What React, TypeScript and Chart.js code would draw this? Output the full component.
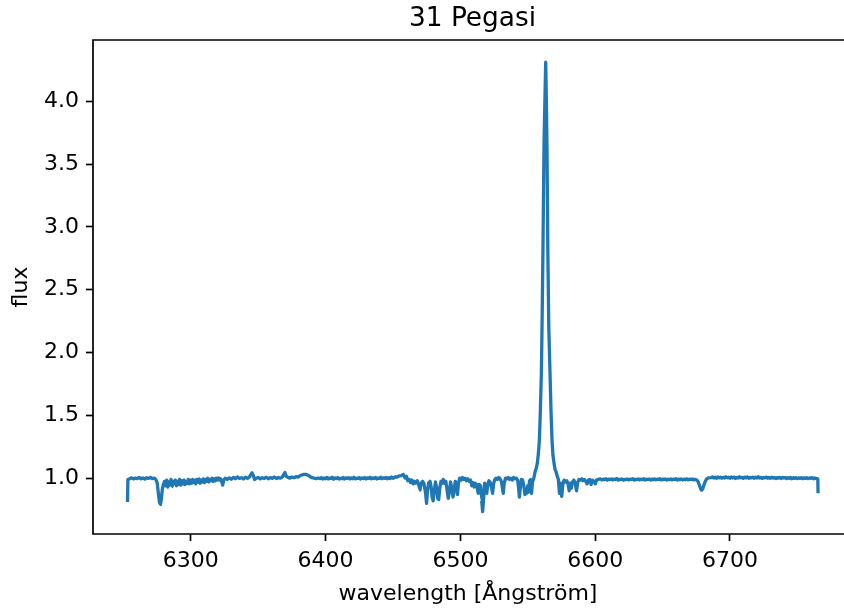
import React, { useEffect, useRef } from "react";
import { Chart, registerables } from "chart.js";

Chart.register(...registerables);

const TITLE = "31 Pegasi";
const X_LABEL = "wavelength [Ångström]";
const Y_LABEL = "flux";
const xTicks = [6300, 6400, 6500, 6600, 6700];
const yTicks = [1.0, 1.5, 2.0, 2.5, 3.0, 3.5, 4.0];
const X_MIN = 6227.4;
const X_MAX = 6783.9; // visible part of the axis
const X_AXIS_END = 6790.6; // full axis limit (right spine falls just outside the frame)
const Y_MIN = 0.556;
const Y_MAX = 4.487;

// blue edge continuum
const edgeWl = [6253.0, 6253.3, 6254.6, 6256.0, 6257.4, 6258.8, 6260.2, 6261.6, 6263.0, 6264.4, 6265.8, 6267.2, 6268.6, 6270.0, 6271.4, 6272.8, 6274.0];
const edgeFlux = [0.81, 0.99, 0.996, 1.003, 0.994, 1.001, 0.997, 1.006, 0.995, 1.002, 0.993, 1.004, 0.998, 1.007, 0.996, 1.001, 0.99];

// absorption near 6277
const dip6277Wl = [6275.0, 6275.9, 6276.7, 6277.4, 6278.1, 6278.8, 6279.6];
const dip6277Flux = [0.965, 0.88, 0.81, 0.79, 0.83, 0.91, 0.95];

// telluric band 6280-6322
const bandWl = [
  6280.5, 6281.3, 6282.1, 6282.9, 6283.7, 6284.5, 6285.3, 6286.1, 6286.9, 6287.7,
  6288.5, 6289.3, 6290.1, 6290.9, 6291.7, 6292.5, 6293.3, 6294.1, 6294.9, 6295.7,
  6296.5, 6297.3, 6298.1, 6298.9, 6299.7, 6300.5, 6301.3, 6302.1, 6302.9, 6303.7,
  6304.5, 6305.3, 6306.1, 6306.9, 6307.7, 6308.5, 6309.3, 6310.1, 6310.9, 6311.7,
  6312.5, 6313.3, 6314.1, 6314.9, 6315.7, 6316.5, 6317.3, 6318.1, 6318.9, 6319.7,
  6320.5, 6321.3, 6322.1,
];
const bandFlux = [
  0.975, 0.94, 0.985, 0.93, 0.97, 0.945, 0.99, 0.935, 0.975, 0.955,
  0.985, 0.94, 0.975, 0.95, 0.99, 0.945, 0.98, 0.955, 0.985, 0.95,
  0.975, 0.96, 0.99, 0.955, 0.985, 0.96, 0.99, 0.965, 0.985, 0.955,
  0.99, 0.97, 0.995, 0.96, 0.985, 0.97, 0.995, 0.965, 0.99, 0.975,
  1.0, 0.97, 0.99, 0.98, 1.0, 0.975, 0.995, 0.98, 1.0, 0.985,
  1.002, 0.985, 0.995,
];

const contAWl = [6322.9, 6323.6, 6324.4, 6325.5, 6327.0, 6328.5, 6330.0, 6331.5, 6333.0, 6334.5, 6336.0, 6337.5, 6339.0, 6340.5, 6342.0, 6343.5, 6344.6, 6345.5, 6346.4, 6347.3];
const contAFlux = [0.975, 0.945, 0.985, 1.0, 0.99, 1.003, 0.992, 1.006, 0.996, 1.01, 0.998, 1.004, 0.994, 1.008, 0.998, 1.01, 1.03, 1.045, 1.02, 0.99];

const contBWl = [
  6348.5, 6350.0, 6351.5, 6353.0, 6354.5, 6356.0, 6357.5, 6359.0, 6360.5, 6362.0,
  6363.5, 6365.0, 6366.5, 6368.0, 6369.0, 6369.8, 6370.7, 6372.0, 6373.5, 6375.0,
  6376.5, 6378.0, 6379.5, 6381.0, 6382.5, 6384.0, 6385.5, 6387.0, 6388.5, 6390.0,
  6391.5, 6393.0, 6394.5,
];
const contBFlux = [
  1.0, 1.006, 0.995, 1.004, 0.998, 1.008, 0.996, 1.005, 0.999, 1.01,
  0.997, 1.006, 1.0, 1.012, 1.03, 1.045, 1.015, 1.008, 1.0, 1.01,
  1.004, 1.012, 1.008, 1.02, 1.026, 1.03, 1.03, 1.024, 1.012, 1.004,
  1.0, 0.996, 1.002,
];

const contCWl = [
  6396, 6397, 6398, 6399, 6400, 6401, 6402, 6403, 6404, 6405,
  6406, 6407, 6408, 6409, 6410, 6411, 6412, 6413, 6414, 6415,
  6416, 6417, 6418, 6419, 6420, 6421, 6422, 6423, 6424, 6425,
  6426, 6427, 6428, 6429, 6430, 6431, 6432, 6433, 6434, 6435,
  6436, 6437, 6438, 6439, 6440, 6441, 6442, 6443, 6444, 6445,
  6446, 6447, 6448, 6449, 6450, 6451, 6452, 6453, 6454,
];
const contCFlux = [
  0.997, 1.004, 0.993, 1.002, 0.996, 1.006, 0.994, 1.001, 0.998, 1.007,
  0.992, 1.003, 0.997, 1.005, 0.994, 1.0, 0.996, 1.006, 0.993, 1.002,
  0.999, 1.005, 0.994, 1.003, 0.996, 1.007, 0.995, 1.001, 0.998, 1.006,
  0.993, 1.002, 0.997, 1.005, 0.994, 1.003, 0.999, 1.007, 0.995, 1.002,
  0.997, 1.006, 0.994, 1.001, 0.998, 1.008, 0.996, 1.003, 0.999, 1.006,
  0.995, 1.004, 0.998, 1.009, 1.0, 1.006, 1.012, 1.008, 1.016,
];

const blendAWl = [
  6456.0, 6457.6, 6459.0, 6460.0, 6461.0, 6462.0, 6463.0, 6464.0, 6465.0, 6466.0,
  6467.0, 6468.0, 6469.0, 6470.0, 6471.0, 6472.0, 6473.0, 6474.2, 6474.9, 6475.6,
  6476.5, 6477.5, 6478.3, 6479.0, 6479.8, 6480.6, 6481.5, 6482.5, 6483.2, 6483.9,
  6484.7, 6485.6, 6486.5, 6487.3, 6488.2, 6489.2, 6490.2, 6491.0, 6491.8, 6492.7,
  6493.6, 6494.5, 6495.3, 6496.2, 6497.0, 6497.8, 6498.6, 6499.5, 6500.5, 6501.5,
  6502.5, 6503.5, 6504.5, 6505.5, 6506.5, 6507.5, 6508.5, 6509.3, 6510.2,
];
const blendAFlux = [
  1.02, 1.03, 1.0, 1.015, 0.98, 0.99, 0.965, 0.985, 0.955, 0.975,
  0.96, 0.98, 0.95, 0.905, 0.965, 0.975, 0.955, 0.88, 0.8, 0.9,
  0.965, 0.975, 0.93, 0.85, 0.82, 0.9, 0.97, 0.92, 0.84, 0.83,
  0.92, 0.975, 0.96, 0.99, 0.96, 0.975, 0.9, 0.84, 0.89, 0.97,
  0.92, 0.85, 0.9, 0.975, 0.95, 0.87, 0.96, 1.0, 0.985, 1.005,
  0.99, 1.0, 0.98, 0.995, 0.975, 0.985, 0.94, 0.965, 0.93,
];

const blendBWl = [
  6511.0, 6512.0, 6513.2, 6514.0, 6515.0, 6515.8, 6516.5, 6517.2, 6518.0, 6519.0,
  6519.6, 6520.3, 6521.2, 6522.0, 6523.0, 6523.9, 6524.7, 6525.6, 6526.5, 6527.5,
  6528.5, 6529.5, 6530.5, 6531.2, 6531.8, 6532.5, 6533.5, 6534.5, 6535.5, 6536.5,
  6537.5, 6538.5, 6539.5, 6540.5, 6541.5, 6542.5, 6543.2, 6543.8, 6544.5, 6545.3,
  6546.2, 6547.2, 6547.9, 6548.6, 6549.2, 6550.0, 6550.6, 6551.3, 6552.1, 6552.8,
  6553.5, 6554.5,
];
const blendBFlux = [
  0.96, 0.95, 0.88, 0.95, 0.94, 0.82, 0.735, 0.83, 0.96, 0.93,
  0.88, 0.95, 0.98, 0.97, 0.93, 0.88, 0.96, 0.99, 1.0, 0.99,
  1.005, 0.995, 0.97, 0.92, 0.88, 0.96, 1.0, 0.995, 1.005, 0.99,
  1.0, 0.985, 1.005, 0.995, 1.0, 0.985, 0.92, 0.85, 0.93, 0.99,
  0.985, 0.93, 0.87, 0.9, 0.88, 0.94, 0.89, 0.98, 0.99, 0.88,
  0.97, 1.0,
];

// H-alpha emission
const halphaWl = [
  6555.4, 6556.3, 6557.1, 6557.9, 6558.6, 6559.3, 6560.1, 6560.6, 6561.1, 6561.6,
  6562.1, 6562.7, 6563.3, 6563.8, 6564.3, 6564.9, 6565.6, 6566.5, 6567.2, 6568.0,
  6568.7, 6569.5, 6570.2, 6571.0, 6571.8, 6572.7,
];
const halphaFlux = [
  1.05, 1.08, 1.12, 1.2, 1.3, 1.52, 1.84, 2.22, 2.65, 3.17,
  3.69, 4.0, 4.31, 4.0, 3.6, 2.8, 2.2, 1.84, 1.55, 1.3,
  1.18, 1.12, 1.07, 1.05, 1.02, 0.99,
];

const redBlendWl = [
  6573.5, 6574.3, 6575.2, 6576.0, 6577.0, 6578.0, 6579.0, 6580.0, 6580.7, 6581.4,
  6582.3, 6583.2, 6584.2, 6585.2, 6586.2, 6587.0, 6588.0, 6589.0, 6590.0, 6591.0,
  6592.0, 6593.0, 6594.0, 6595.0, 6596.0, 6597.0, 6598.0, 6599.0, 6600.2, 6601.0,
  6602.0,
];
const redBlendFlux = [
  0.88, 0.96, 0.855, 0.95, 0.985, 0.97, 0.98, 0.95, 0.9, 0.96,
  0.92, 0.97, 0.985, 0.96, 0.9, 0.965, 0.99, 0.985, 0.995, 0.98,
  0.99, 0.975, 0.955, 0.985, 0.99, 0.95, 0.985, 0.975, 0.955, 0.985,
  0.99,
];

const contDWl = [
  6604, 6605, 6606, 6607, 6608, 6609, 6610, 6611, 6612, 6613,
  6614, 6615, 6616, 6617, 6618, 6619, 6620, 6621, 6622, 6623,
  6624, 6625, 6626, 6627, 6628, 6629, 6630, 6631, 6632, 6633,
  6634, 6635, 6636, 6637, 6638, 6639, 6640, 6641, 6642, 6643,
  6644, 6645, 6646, 6647, 6648, 6649, 6650, 6651, 6652, 6653,
  6654, 6655, 6656, 6657, 6658, 6659, 6660, 6661, 6662, 6663,
  6664, 6665, 6666, 6667, 6668, 6669, 6670, 6671, 6672, 6673,
  6674,
];
const contDFlux = [
  0.994, 0.986, 0.993, 0.988, 0.996, 0.985, 0.992, 0.989, 0.995, 0.986,
  0.993, 0.99, 0.997, 0.985, 0.992, 0.988, 0.995, 0.984, 0.991, 0.989,
  0.994, 0.986, 0.993, 0.99, 0.996, 0.985, 0.992, 0.988, 0.995, 0.987,
  0.993, 0.989, 0.996, 0.986, 0.992, 0.99, 0.994, 0.985, 0.993, 0.988,
  0.995, 0.987, 0.992, 0.99, 0.996, 0.986, 0.993, 0.989, 0.994, 0.985,
  0.992, 0.988, 0.995, 0.987, 0.993, 0.99, 0.996, 0.986, 0.992, 0.989,
  0.994, 0.986, 0.993, 0.988, 0.995, 0.987, 0.992, 0.99, 0.994, 0.987,
  0.991,
];

// He I 6678
const heWl = [6675.5, 6676.5, 6677.5, 6678.3, 6679.0, 6679.8, 6680.7, 6681.7, 6682.8, 6684.0];
const heFlux = [0.985, 0.97, 0.94, 0.915, 0.905, 0.915, 0.945, 0.975, 0.995, 1.003];

const contEWl = [
  6686, 6687, 6688, 6689, 6690, 6691, 6692, 6693, 6694, 6695,
  6696, 6697, 6698, 6699, 6700, 6701, 6702, 6703, 6704, 6705,
  6706, 6707, 6708, 6709, 6710, 6711, 6712, 6713, 6714, 6715,
  6716, 6717, 6718, 6719, 6720, 6721, 6722, 6723, 6724, 6725,
  6726, 6727, 6728, 6729, 6730, 6731, 6732, 6733, 6734, 6735,
  6736, 6737, 6738, 6739, 6740, 6741, 6742, 6743, 6744, 6745,
  6746, 6747, 6748, 6749, 6750, 6751, 6752, 6753, 6754, 6755,
  6756, 6757, 6758, 6759, 6760, 6761, 6762, 6763, 6764,
  6765.2, 6765.4,
];
const contEFlux = [
  1.004, 1.011, 1.001, 1.008, 0.999, 1.01, 1.003, 1.009, 1.0, 1.007,
  1.002, 1.012, 1.003, 1.008, 1.0, 1.01, 1.002, 1.009, 0.998, 1.007,
  1.001, 1.011, 1.003, 1.007, 0.999, 1.009, 1.002, 1.01, 1.0, 1.006,
  1.003, 1.009, 0.999, 1.008, 1.002, 1.011, 1.001, 1.007, 0.998, 1.006,
  1.002, 1.009, 1.0, 1.007, 0.999, 1.008, 1.001, 1.006, 0.997, 1.005,
  1.0, 1.007, 0.998, 1.006, 1.001, 1.005, 0.997, 1.004, 0.999, 1.006,
  0.996, 1.004, 0.998, 1.005, 0.997, 1.003, 0.999, 1.005, 0.996, 1.003,
  0.998, 1.004, 0.997, 1.003, 0.999, 1.004, 0.996, 1.002, 0.998,
  0.995, 0.88,
];

const wavelength = [
  ...edgeWl, ...dip6277Wl, ...bandWl, ...contAWl, ...contBWl, ...contCWl,
  ...blendAWl, ...blendBWl, ...halphaWl, ...redBlendWl, ...contDWl, ...heWl, ...contEWl,
];
const flux = [
  ...edgeFlux, ...dip6277Flux, ...bandFlux, ...contAFlux, ...contBFlux, ...contCFlux,
  ...blendAFlux, ...blendBFlux, ...halphaFlux, ...redBlendFlux, ...contDFlux, ...heFlux, ...contEFlux,
];

const CANVAS_W = 844;
const CANVAS_H = 609;
const FONT = "'DejaVu Sans', 'Liberation Sans', sans-serif";

// spines (left, top, bottom) and the title centred over the full axis extent
const framePlugin = {
  id: "frame",
  afterDraw(chart: any) {
    const { ctx, chartArea: a } = chart;
    ctx.save();
    ctx.strokeStyle = "#000";
    ctx.lineWidth = 1.7;
    ctx.lineCap = "square";
    ctx.beginPath();
    ctx.moveTo(a.right + 10, a.top);
    ctx.lineTo(a.left, a.top);
    ctx.lineTo(a.left, a.bottom);
    ctx.lineTo(a.right + 10, a.bottom);
    ctx.stroke();
    const xs = chart.scales.x;
    const cx = (a.left + xs.getPixelForValue(X_AXIS_END)) / 2;
    ctx.fillStyle = "#000";
    ctx.font = `normal 26.4px ${FONT}`;
    ctx.textAlign = "center";
    ctx.textBaseline = "middle";
    ctx.fillText(TITLE, cx, 19.2);
    ctx.restore();
  },
};

export default function App() {
  const ref = useRef<HTMLCanvasElement | null>(null);

  useEffect(() => {
    const canvas = ref.current;
    if (!canvas) return;
    const points = wavelength.map((x, i) => ({ x, y: flux[i] }));
    const tickFont = { family: FONT, size: 22, weight: "normal" as const };
    const chart = new Chart(canvas, {
      type: "line",
      data: {
        datasets: [
          {
            data: points,
            borderColor: "#1f77b4",
            borderWidth: 3.3,
            pointRadius: 0,
            // a negligible tension keeps segments straight but avoids the
            // pixel-column "fast path" that distorts steep lines
            tension: 1e-6,
            fill: false,
            borderJoinStyle: "round",
            borderCapStyle: "butt",
          },
        ],
      },
      options: {
        animation: false,
        responsive: false,
        devicePixelRatio: 1,
        layout: { padding: { left: 0, right: 1, top: 40, bottom: 0 } },
        plugins: {
          legend: { display: false },
          tooltip: { enabled: false },
          title: { display: false },
        },
        scales: {
          x: {
            type: "linear",
            min: X_MIN,
            max: X_MAX,
            afterBuildTicks: (s: any) => {
              s.ticks = xTicks.map((v) => ({ value: v }));
            },
            afterFit: (s: any) => {
              s.height = 75;
            },
            grid: {
              display: true,
              drawOnChartArea: false,
              drawTicks: true,
              tickLength: 7,
              tickWidth: 1.7,
              tickColor: "#000",
            },
            border: { display: false },
            ticks: {
              color: "#000",
              font: tickFont,
              padding: 7,
              maxRotation: 0,
              autoSkip: false,
              callback: (v: any) => String(v),
            },
            title: {
              display: true,
              text: X_LABEL,
              color: "#000",
              font: tickFont,
              padding: { top: 0, bottom: 2 },
            },
          },
          y: {
            type: "linear",
            min: Y_MIN,
            max: Y_MAX,
            afterBuildTicks: (s: any) => {
              s.ticks = yTicks.map((v) => ({ value: v }));
            },
            afterFit: (s: any) => {
              s.width = 93;
            },
            grid: {
              display: true,
              drawOnChartArea: false,
              drawTicks: true,
              tickLength: 7,
              tickWidth: 1.7,
              tickColor: "#000",
            },
            border: { display: false },
            ticks: {
              color: "#000",
              font: tickFont,
              padding: 7,
              autoSkip: false,
              callback: (v: any) => Number(v).toFixed(1),
            },
            title: {
              display: true,
              text: Y_LABEL,
              color: "#000",
              font: tickFont,
              padding: { top: 8, bottom: 0 },
            },
          },
        },
      },
      plugins: [framePlugin],
    });
    return () => chart.destroy();
  }, []);

  return (
    <div
      style={{
        position: "absolute",
        left: 0,
        top: 0,
        width: 844,
        height: 609,
        overflow: "hidden",
        background: "#fff",
      }}
    >
      <canvas ref={ref} width={CANVAS_W} height={CANVAS_H} style={{ display: "block" }} />
    </div>
  );
}
